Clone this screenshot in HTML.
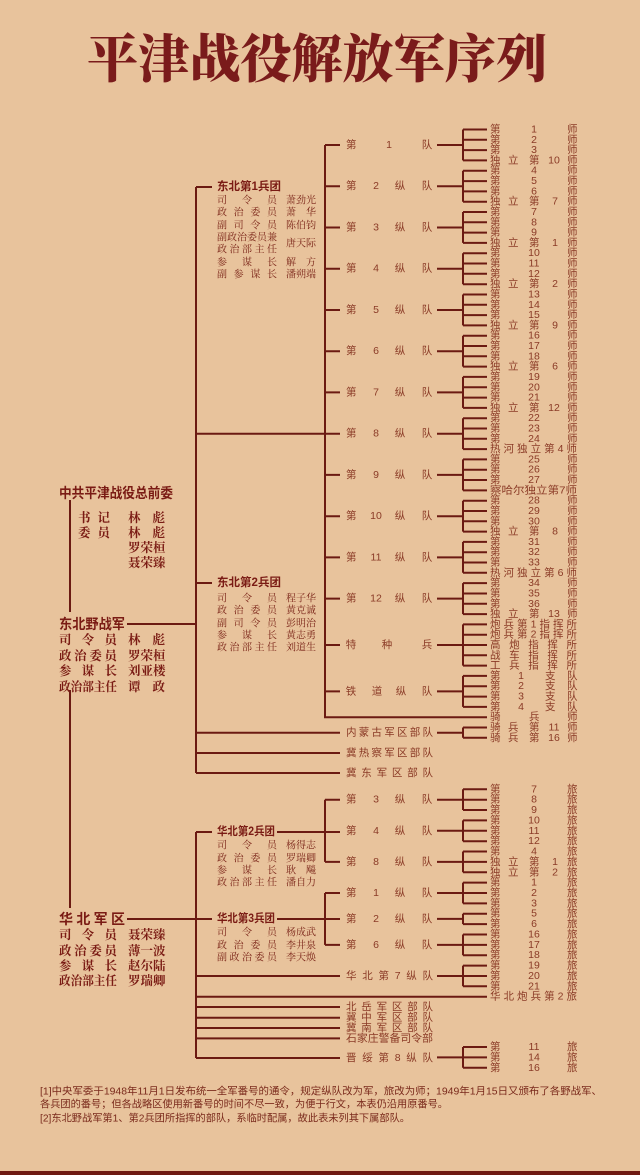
<!DOCTYPE html>
<html><head><meta charset="utf-8"><style>
html,body{margin:0;padding:0;background:#e8c39c;}
svg{display:block}
text{font-family:"Liberation Sans","Noto Sans CJK SC",sans-serif;dominant-baseline:central}
.t{font-family:"Noto Serif CJK SC","Liberation Serif",serif;font-weight:900;fill:#7a1b1b}
.lf{font-size:10.5px;fill:#8a3a26}
.c{text-anchor:middle}
.r{font-size:10px;fill:#7a2418;font-family:"Noto Serif CJK SC","Liberation Serif",serif}
.h{font-size:11.5px;font-weight:bold;fill:#7a1b14}
.b{font-size:14px;font-weight:bold;fill:#7a1b14;font-family:"Noto Sans CJK SC","Liberation Sans",sans-serif}
.m{font-size:12.5px;fill:#7a1b14;font-family:"Noto Serif CJK SC","Liberation Serif",serif;font-weight:bold}
.fn{font-size:10.3px;fill:#7a2a1c}
</style></head><body>
<svg width="640" height="1175" viewBox="0 0 640 1175" xmlns="http://www.w3.org/2000/svg">
<rect width="640" height="1175" fill="#e8c39c"/>
<rect x="0" y="1171" width="640" height="4" fill="#6e1a12"/>
<text class="t" x="87" y="55" font-size="52" textLength="460" lengthAdjust="spacingAndGlyphs">平津战役解放军序列</text>

<g stroke="#6b1a12" stroke-width="2" fill="none">
<path d="M70 500V612M70 690V908M127 624H196M196 187V773M196 187H212M196 583H212M196 433.7H340"/>
<path d="M325 145V717.2H487"/>
<path d="M325 145H340M325 186.2H340M325 227.5H340M325 268.7H340M325 310H340M325 351.2H340M325 392.4H340M325 474.9H340M325 516.2H340M325 557.4H340M325 598.6H340M325 645H340M325 691.4H340"/>
<path d="M196 732.7H340M196 753H340M196 773H340"/>
<path d="M437 145H463M437 186.2H463M437 227.5H463M437 268.7H463M437 310H463M437 351.2H463M437 392.4H463M437 433.7H463M437 474.9H463M437 516.2H463M437 557.4H463M437 598.6H463M437 645H463M437 691.4H463M437 732.7H463"/>
<path d="M463 129.5V160.4M463 170.7V201.7M463 212V242.9M463 253.2V284.2M463 294.5V325.4M463 335.7V366.6M463 376.9V407.9M463 418.2V449.1M463 459.4V490.4M463 500.7V531.6M463 541.9V572.8M463 583.1V614.1M463 624.4V665.6M463 675.9V706.9M463 727.5V737.8"/>
<path d="M463 129.5H487M463 139.8H487M463 150.1H487M463 160.4H487M463 170.7H487M463 181.1H487M463 191.4H487M463 201.7H487M463 212H487M463 222.3H487M463 232.6H487M463 242.9H487M463 253.2H487M463 263.5H487M463 273.8H487M463 284.2H487M463 294.5H487M463 304.8H487M463 315.1H487M463 325.4H487M463 335.7H487M463 346H487M463 356.3H487M463 366.6H487M463 376.9H487M463 387.3H487M463 397.6H487M463 407.9H487M463 418.2H487M463 428.5H487M463 438.8H487M463 449.1H487M463 459.4H487M463 469.7H487M463 480H487M463 490.4H487M463 500.7H487M463 511H487M463 521.3H487M463 531.6H487M463 541.9H487M463 552.2H487M463 562.5H487M463 572.8H487M463 583.1H487M463 593.5H487M463 603.8H487M463 614.1H487M463 624.4H487M463 634.7H487M463 645H487M463 655.3H487M463 665.6H487M463 675.9H487M463 686.2H487M463 696.6H487M463 706.9H487M463 727.5H487M463 737.8H487"/>
<path d="M196 832V1058M127 919H212M196 832H212M277 832H340M277 919H340"/>
<path d="M325 799.7V861.9M325 893V944.9M325 799.7H340M325 861.9H340M325 893H340M325 944.9H340"/>
<path d="M196 976H340M196 996.7H487M196 1007H340M196 1017.7H340M196 1028H340M196 1038.4H340M196 1058H340"/>
<path d="M437 799.7H463M437 830.8H463M437 861.9H463M437 893H463M437 918.9H463M437 944.9H463M437 976H463M437 1057.4H463"/>
<path d="M463 789.3V810M463 820.4V841.2M463 851.5V872.3M463 882.6V903.4M463 913.7V924.1M463 934.5V955.2M463 965.6V986.3M463 1047V1067.8"/>
<path d="M463 789.3H487M463 799.7H487M463 810H487M463 820.4H487M463 830.8H487M463 841.2H487M463 851.5H487M463 861.9H487M463 872.3H487M463 882.6H487M463 893H487M463 903.4H487M463 913.7H487M463 924.1H487M463 934.5H487M463 944.9H487M463 955.2H487M463 965.6H487M463 976H487M463 986.3H487M463 1047H487M463 1057.4H487M463 1067.8H487"/>
</g>

<text class="b" x="59" y="493" textLength="114" lengthAdjust="spacingAndGlyphs">中共平津战役总前委</text>
<text class="m" x="78" y="517" textLength="32" lengthAdjust="spacing">书记</text><text class="m" x="128" y="517" textLength="37" lengthAdjust="spacing">林彪</text>
<text class="m" x="78" y="532" textLength="32" lengthAdjust="spacing">委员</text><text class="m" x="128" y="532" textLength="37" lengthAdjust="spacing">林彪</text>
<text class="m" x="128" y="547">罗荣桓</text>
<text class="m" x="128" y="562">聂荣臻</text>

<text class="b" x="59" y="624" textLength="66" lengthAdjust="spacingAndGlyphs">东北野战军</text>
<text class="m" x="59" y="639" textLength="58" lengthAdjust="spacing">司令员</text><text class="m" x="128" y="639" textLength="37" lengthAdjust="spacing">林彪</text>
<text class="m" x="59" y="655" textLength="58" lengthAdjust="spacing">政治委员</text><text class="m" x="128" y="655">罗荣桓</text>
<text class="m" x="59" y="670" textLength="58" lengthAdjust="spacing">参谋长</text><text class="m" x="128" y="670">刘亚楼</text>
<text class="m" x="59" y="686" textLength="58" lengthAdjust="spacingAndGlyphs">政治部主任</text><text class="m" x="128" y="686" textLength="37" lengthAdjust="spacing">谭政</text>

<text class="b" x="59" y="919" textLength="66" lengthAdjust="spacing">华北军区</text>
<text class="m" x="59" y="934" textLength="58" lengthAdjust="spacing">司令员</text><text class="m" x="128" y="934">聂荣臻</text>
<text class="m" x="59" y="950" textLength="58" lengthAdjust="spacing">政治委员</text><text class="m" x="128" y="950">薄一波</text>
<text class="m" x="59" y="965" textLength="58" lengthAdjust="spacing">参谋长</text><text class="m" x="128" y="965">赵尔陆</text>
<text class="m" x="59" y="980" textLength="58" lengthAdjust="spacingAndGlyphs">政治部主任</text><text class="m" x="128" y="980">罗瑞卿</text>

<text class="h" x="217" y="187" textLength="64" lengthAdjust="spacingAndGlyphs">东北第1兵团</text>
<text class="r" x="217" y="199" textLength="60" lengthAdjust="spacing">司令员</text><text class="r" x="286" y="199">萧劲光</text>
<text class="r" x="217" y="211" textLength="60" lengthAdjust="spacing">政治委员</text><text class="r" x="286" y="211" textLength="30" lengthAdjust="spacing">萧华</text>
<text class="r" x="217" y="224" textLength="60" lengthAdjust="spacing">副司令员</text><text class="r" x="286" y="224">陈伯钧</text>
<text class="r" x="217" y="236" textLength="60" lengthAdjust="spacing">副政治委员兼</text>
<text class="r" x="217" y="248" textLength="60" lengthAdjust="spacing">政治部主任</text><text class="r" x="286" y="242">唐天际</text>
<text class="r" x="217" y="261" textLength="60" lengthAdjust="spacing">参谋长</text><text class="r" x="286" y="261" textLength="30" lengthAdjust="spacing">解方</text>
<text class="r" x="217" y="273" textLength="60" lengthAdjust="spacing">副参谋长</text><text class="r" x="286" y="273">潘朔端</text>

<text class="h" x="217" y="583" textLength="64" lengthAdjust="spacingAndGlyphs">东北第2兵团</text>
<text class="r" x="217" y="597" textLength="60" lengthAdjust="spacing">司令员</text><text class="r" x="286" y="597">程子华</text>
<text class="r" x="217" y="609" textLength="60" lengthAdjust="spacing">政治委员</text><text class="r" x="286" y="609">黄克诚</text>
<text class="r" x="217" y="622" textLength="60" lengthAdjust="spacing">副司令员</text><text class="r" x="286" y="622">彭明治</text>
<text class="r" x="217" y="634" textLength="60" lengthAdjust="spacing">参谋长</text><text class="r" x="286" y="634">黄志勇</text>
<text class="r" x="217" y="646" textLength="60" lengthAdjust="spacing">政治部主任</text><text class="r" x="286" y="646">刘道生</text>

<text class="h" x="217" y="832" textLength="58" lengthAdjust="spacingAndGlyphs">华北第2兵团</text>
<text class="r" x="217" y="844" textLength="60" lengthAdjust="spacing">司令员</text><text class="r" x="286" y="844">杨得志</text>
<text class="r" x="217" y="857" textLength="60" lengthAdjust="spacing">政治委员</text><text class="r" x="286" y="857">罗瑞卿</text>
<text class="r" x="217" y="869" textLength="60" lengthAdjust="spacing">参谋长</text><text class="r" x="286" y="869" textLength="30" lengthAdjust="spacing">耿飚</text>
<text class="r" x="217" y="881" textLength="60" lengthAdjust="spacing">政治部主任</text><text class="r" x="286" y="881">潘自力</text>

<text class="h" x="217" y="919" textLength="58" lengthAdjust="spacingAndGlyphs">华北第3兵团</text>
<text class="r" x="217" y="931" textLength="60" lengthAdjust="spacing">司令员</text><text class="r" x="286" y="931">杨成武</text>
<text class="r" x="217" y="944" textLength="60" lengthAdjust="spacing">政治委员</text><text class="r" x="286" y="944">李井泉</text>
<text class="r" x="217" y="956" textLength="60" lengthAdjust="spacing">副政治委员</text><text class="r" x="286" y="956">李天焕</text>

<g class="lf">
<text x="346" y="145">第</text><text class="c" x="389" y="145">1</text><text class="c" x="427" y="145">队</text>
<text x="346" y="186.2">第</text><text class="c" x="376" y="186.2">2</text><text class="c" x="400" y="186.2">纵</text><text class="c" x="427" y="186.2">队</text>
<text x="346" y="227.5">第</text><text class="c" x="376" y="227.5">3</text><text class="c" x="400" y="227.5">纵</text><text class="c" x="427" y="227.5">队</text>
<text x="346" y="268.7">第</text><text class="c" x="376" y="268.7">4</text><text class="c" x="400" y="268.7">纵</text><text class="c" x="427" y="268.7">队</text>
<text x="346" y="310">第</text><text class="c" x="376" y="310">5</text><text class="c" x="400" y="310">纵</text><text class="c" x="427" y="310">队</text>
<text x="346" y="351.2">第</text><text class="c" x="376" y="351.2">6</text><text class="c" x="400" y="351.2">纵</text><text class="c" x="427" y="351.2">队</text>
<text x="346" y="392.4">第</text><text class="c" x="376" y="392.4">7</text><text class="c" x="400" y="392.4">纵</text><text class="c" x="427" y="392.4">队</text>
<text x="346" y="433.7">第</text><text class="c" x="376" y="433.7">8</text><text class="c" x="400" y="433.7">纵</text><text class="c" x="427" y="433.7">队</text>
<text x="346" y="474.9">第</text><text class="c" x="376" y="474.9">9</text><text class="c" x="400" y="474.9">纵</text><text class="c" x="427" y="474.9">队</text>
<text x="346" y="516.2">第</text><text class="c" x="376" y="516.2">10</text><text class="c" x="400" y="516.2">纵</text><text class="c" x="427" y="516.2">队</text>
<text x="346" y="557.4">第</text><text class="c" x="376" y="557.4">11</text><text class="c" x="400" y="557.4">纵</text><text class="c" x="427" y="557.4">队</text>
<text x="346" y="598.6">第</text><text class="c" x="376" y="598.6">12</text><text class="c" x="400" y="598.6">纵</text><text class="c" x="427" y="598.6">队</text>
<text class="c" x="351" y="645">特</text><text class="c" x="387" y="645">种</text><text class="c" x="427" y="645">兵</text>
<text class="c" x="351" y="691.4">铁</text><text class="c" x="377" y="691.4">道</text><text class="c" x="401" y="691.4">纵</text><text class="c" x="427" y="691.4">队</text>
<text x="346" y="732.7" textLength="87" lengthAdjust="spacing">内蒙古军区部队</text>
<text x="346" y="753" textLength="87" lengthAdjust="spacing">冀热察军区部队</text>
<text x="346" y="773" textLength="87" lengthAdjust="spacing">冀东军区部队</text>
</g>

<g class="lf">
<text x="490" y="129.5">第</text><text class="c" x="534" y="129.5">1</text><text x="567" y="129.5">师</text>
<text x="490" y="139.8">第</text><text class="c" x="534" y="139.8">2</text><text x="567" y="139.8">师</text>
<text x="490" y="150.1">第</text><text class="c" x="534" y="150.1">3</text><text x="567" y="150.1">师</text>
<text x="490" y="160.4">独</text><text x="508" y="160.4">立</text><text x="529" y="160.4">第</text><text class="c" x="554" y="160.4">10</text><text x="567" y="160.4">师</text>
<text x="490" y="170.7">第</text><text class="c" x="534" y="170.7">4</text><text x="567" y="170.7">师</text>
<text x="490" y="181.1">第</text><text class="c" x="534" y="181.1">5</text><text x="567" y="181.1">师</text>
<text x="490" y="191.4">第</text><text class="c" x="534" y="191.4">6</text><text x="567" y="191.4">师</text>
<text x="490" y="201.7">独</text><text x="508" y="201.7">立</text><text x="529" y="201.7">第</text><text class="c" x="555" y="201.7">7</text><text x="567" y="201.7">师</text>
<text x="490" y="212">第</text><text class="c" x="534" y="212">7</text><text x="567" y="212">师</text>
<text x="490" y="222.3">第</text><text class="c" x="534" y="222.3">8</text><text x="567" y="222.3">师</text>
<text x="490" y="232.6">第</text><text class="c" x="534" y="232.6">9</text><text x="567" y="232.6">师</text>
<text x="490" y="242.9">独</text><text x="508" y="242.9">立</text><text x="529" y="242.9">第</text><text class="c" x="555" y="242.9">1</text><text x="567" y="242.9">师</text>
<text x="490" y="253.2">第</text><text class="c" x="534" y="253.2">10</text><text x="567" y="253.2">师</text>
<text x="490" y="263.5">第</text><text class="c" x="534" y="263.5">11</text><text x="567" y="263.5">师</text>
<text x="490" y="273.8">第</text><text class="c" x="534" y="273.8">12</text><text x="567" y="273.8">师</text>
<text x="490" y="284.2">独</text><text x="508" y="284.2">立</text><text x="529" y="284.2">第</text><text class="c" x="555" y="284.2">2</text><text x="567" y="284.2">师</text>
<text x="490" y="294.5">第</text><text class="c" x="534" y="294.5">13</text><text x="567" y="294.5">师</text>
<text x="490" y="304.8">第</text><text class="c" x="534" y="304.8">14</text><text x="567" y="304.8">师</text>
<text x="490" y="315.1">第</text><text class="c" x="534" y="315.1">15</text><text x="567" y="315.1">师</text>
<text x="490" y="325.4">独</text><text x="508" y="325.4">立</text><text x="529" y="325.4">第</text><text class="c" x="555" y="325.4">9</text><text x="567" y="325.4">师</text>
<text x="490" y="335.7">第</text><text class="c" x="534" y="335.7">16</text><text x="567" y="335.7">师</text>
<text x="490" y="346">第</text><text class="c" x="534" y="346">17</text><text x="567" y="346">师</text>
<text x="490" y="356.3">第</text><text class="c" x="534" y="356.3">18</text><text x="567" y="356.3">师</text>
<text x="490" y="366.6">独</text><text x="508" y="366.6">立</text><text x="529" y="366.6">第</text><text class="c" x="555" y="366.6">6</text><text x="567" y="366.6">师</text>
<text x="490" y="376.9">第</text><text class="c" x="534" y="376.9">19</text><text x="567" y="376.9">师</text>
<text x="490" y="387.3">第</text><text class="c" x="534" y="387.3">20</text><text x="567" y="387.3">师</text>
<text x="490" y="397.6">第</text><text class="c" x="534" y="397.6">21</text><text x="567" y="397.6">师</text>
<text x="490" y="407.9">独</text><text x="508" y="407.9">立</text><text x="529" y="407.9">第</text><text class="c" x="554" y="407.9">12</text><text x="567" y="407.9">师</text>
<text x="490" y="418.2">第</text><text class="c" x="534" y="418.2">22</text><text x="567" y="418.2">师</text>
<text x="490" y="428.5">第</text><text class="c" x="534" y="428.5">23</text><text x="567" y="428.5">师</text>
<text x="490" y="438.8">第</text><text class="c" x="534" y="438.8">24</text><text x="567" y="438.8">师</text>
<text x="490" y="449.1" textLength="87" lengthAdjust="spacing">热河独立第4师</text>
<text x="490" y="459.4">第</text><text class="c" x="534" y="459.4">25</text><text x="567" y="459.4">师</text>
<text x="490" y="469.7">第</text><text class="c" x="534" y="469.7">26</text><text x="567" y="469.7">师</text>
<text x="490" y="480">第</text><text class="c" x="534" y="480">27</text><text x="567" y="480">师</text>
<text x="490" y="490.4" textLength="87" lengthAdjust="spacingAndGlyphs">察哈尔独立第7师</text>
<text x="490" y="500.7">第</text><text class="c" x="534" y="500.7">28</text><text x="567" y="500.7">师</text>
<text x="490" y="511">第</text><text class="c" x="534" y="511">29</text><text x="567" y="511">师</text>
<text x="490" y="521.3">第</text><text class="c" x="534" y="521.3">30</text><text x="567" y="521.3">师</text>
<text x="490" y="531.6">独</text><text x="508" y="531.6">立</text><text x="529" y="531.6">第</text><text class="c" x="555" y="531.6">8</text><text x="567" y="531.6">师</text>
<text x="490" y="541.9">第</text><text class="c" x="534" y="541.9">31</text><text x="567" y="541.9">师</text>
<text x="490" y="552.2">第</text><text class="c" x="534" y="552.2">32</text><text x="567" y="552.2">师</text>
<text x="490" y="562.5">第</text><text class="c" x="534" y="562.5">33</text><text x="567" y="562.5">师</text>
<text x="490" y="572.8" textLength="87" lengthAdjust="spacing">热河独立第6师</text>
<text x="490" y="583.1">第</text><text class="c" x="534" y="583.1">34</text><text x="567" y="583.1">师</text>
<text x="490" y="593.5">第</text><text class="c" x="534" y="593.5">35</text><text x="567" y="593.5">师</text>
<text x="490" y="603.8">第</text><text class="c" x="534" y="603.8">36</text><text x="567" y="603.8">师</text>
<text x="490" y="614.1">独</text><text x="508" y="614.1">立</text><text x="529" y="614.1">第</text><text class="c" x="554" y="614.1">13</text><text x="567" y="614.1">师</text>
<text x="490" y="624.4" textLength="87" lengthAdjust="spacing">炮兵第1指挥所</text>
<text x="490" y="634.7" textLength="87" lengthAdjust="spacing">炮兵第2指挥所</text>
<text x="490" y="645" textLength="87" lengthAdjust="spacing">高炮指挥所</text>
<text x="490" y="655.3" textLength="87" lengthAdjust="spacing">战车指挥所</text>
<text x="490" y="665.6" textLength="87" lengthAdjust="spacing">工兵指挥所</text>
<text x="490" y="675.9">第</text><text class="c" x="521" y="675.9">1</text><text x="545" y="675.9">支</text><text x="567" y="675.9">队</text>
<text x="490" y="686.2">第</text><text class="c" x="521" y="686.2">2</text><text x="545" y="686.2">支</text><text x="567" y="686.2">队</text>
<text x="490" y="696.6">第</text><text class="c" x="521" y="696.6">3</text><text x="545" y="696.6">支</text><text x="567" y="696.6">队</text>
<text x="490" y="706.9">第</text><text class="c" x="521" y="706.9">4</text><text x="545" y="706.9">支</text><text x="567" y="706.9">队</text>
<text x="490" y="717.2">骑</text><text x="529" y="717.2">兵</text><text x="567" y="717.2">师</text>
<text x="490" y="727.5">骑</text><text x="508" y="727.5">兵</text><text x="529" y="727.5">第</text><text class="c" x="554" y="727.5">11</text><text x="567" y="727.5">师</text>
<text x="490" y="737.8">骑</text><text x="508" y="737.8">兵</text><text x="529" y="737.8">第</text><text class="c" x="554" y="737.8">16</text><text x="567" y="737.8">师</text>
</g>

<g class="lf">
<text x="346" y="799.7">第</text><text class="c" x="376" y="799.7">3</text><text class="c" x="400" y="799.7">纵</text><text class="c" x="427" y="799.7">队</text>
<text x="346" y="830.8">第</text><text class="c" x="376" y="830.8">4</text><text class="c" x="400" y="830.8">纵</text><text class="c" x="427" y="830.8">队</text>
<text x="346" y="861.9">第</text><text class="c" x="376" y="861.9">8</text><text class="c" x="400" y="861.9">纵</text><text class="c" x="427" y="861.9">队</text>
<text x="346" y="893">第</text><text class="c" x="376" y="893">1</text><text class="c" x="400" y="893">纵</text><text class="c" x="427" y="893">队</text>
<text x="346" y="918.9">第</text><text class="c" x="376" y="918.9">2</text><text class="c" x="400" y="918.9">纵</text><text class="c" x="427" y="918.9">队</text>
<text x="346" y="944.9">第</text><text class="c" x="376" y="944.9">6</text><text class="c" x="400" y="944.9">纵</text><text class="c" x="427" y="944.9">队</text>
<text x="346" y="976" textLength="87" lengthAdjust="spacing">华北第7纵队</text>
<text x="346" y="1007" textLength="87" lengthAdjust="spacing">北岳军区部队</text>
<text x="346" y="1017.7" textLength="87" lengthAdjust="spacing">冀中军区部队</text>
<text x="346" y="1028" textLength="87" lengthAdjust="spacing">冀南军区部队</text>
<text x="346" y="1038.4" textLength="87" lengthAdjust="spacingAndGlyphs">石家庄警备司令部</text>
<text x="346" y="1058" textLength="87" lengthAdjust="spacing">晋绥第8纵队</text>
</g>

<g class="lf">
<text x="490" y="789.3">第</text><text class="c" x="534" y="789.3">7</text><text x="567" y="789.3">旅</text>
<text x="490" y="799.7">第</text><text class="c" x="534" y="799.7">8</text><text x="567" y="799.7">旅</text>
<text x="490" y="810">第</text><text class="c" x="534" y="810">9</text><text x="567" y="810">旅</text>
<text x="490" y="820.4">第</text><text class="c" x="534" y="820.4">10</text><text x="567" y="820.4">旅</text>
<text x="490" y="830.8">第</text><text class="c" x="534" y="830.8">11</text><text x="567" y="830.8">旅</text>
<text x="490" y="841.2">第</text><text class="c" x="534" y="841.2">12</text><text x="567" y="841.2">旅</text>
<text x="490" y="851.5">第</text><text class="c" x="534" y="851.5">4</text><text x="567" y="851.5">旅</text>
<text x="490" y="861.9">独</text><text x="508" y="861.9">立</text><text x="529" y="861.9">第</text><text class="c" x="555" y="861.9">1</text><text x="567" y="861.9">旅</text>
<text x="490" y="872.3">独</text><text x="508" y="872.3">立</text><text x="529" y="872.3">第</text><text class="c" x="555" y="872.3">2</text><text x="567" y="872.3">旅</text>
<text x="490" y="882.6">第</text><text class="c" x="534" y="882.6">1</text><text x="567" y="882.6">旅</text>
<text x="490" y="893">第</text><text class="c" x="534" y="893">2</text><text x="567" y="893">旅</text>
<text x="490" y="903.4">第</text><text class="c" x="534" y="903.4">3</text><text x="567" y="903.4">旅</text>
<text x="490" y="913.7">第</text><text class="c" x="534" y="913.7">5</text><text x="567" y="913.7">旅</text>
<text x="490" y="924.1">第</text><text class="c" x="534" y="924.1">6</text><text x="567" y="924.1">旅</text>
<text x="490" y="934.5">第</text><text class="c" x="534" y="934.5">16</text><text x="567" y="934.5">旅</text>
<text x="490" y="944.9">第</text><text class="c" x="534" y="944.9">17</text><text x="567" y="944.9">旅</text>
<text x="490" y="955.2">第</text><text class="c" x="534" y="955.2">18</text><text x="567" y="955.2">旅</text>
<text x="490" y="965.6">第</text><text class="c" x="534" y="965.6">19</text><text x="567" y="965.6">旅</text>
<text x="490" y="976">第</text><text class="c" x="534" y="976">20</text><text x="567" y="976">旅</text>
<text x="490" y="986.3">第</text><text class="c" x="534" y="986.3">21</text><text x="567" y="986.3">旅</text>
<text x="490" y="996.7" textLength="87" lengthAdjust="spacing">华北炮兵第2旅</text>
<text x="490" y="1047">第</text><text class="c" x="534" y="1047">11</text><text x="567" y="1047">旅</text>
<text x="490" y="1057.4">第</text><text class="c" x="534" y="1057.4">14</text><text x="567" y="1057.4">旅</text>
<text x="490" y="1067.8">第</text><text class="c" x="534" y="1067.8">16</text><text x="567" y="1067.8">旅</text>
</g>

<text class="fn" x="40" y="1092" textLength="562" lengthAdjust="spacingAndGlyphs">[1]中央军委于1948年11月1日发布统一全军番号的通令，规定纵队改为军，旅改为师；1949年1月15日又颁布了各野战军、</text>
<text class="fn" x="40" y="1105" textLength="408" lengthAdjust="spacingAndGlyphs">各兵团的番号；但各战略区使用新番号的时间不尽一致，为便于行文，本表仍沿用原番号。</text>
<text class="fn" x="40" y="1119" textLength="370" lengthAdjust="spacingAndGlyphs">[2]东北野战军第1、第2兵团所指挥的部队，系临时配属，故此表未列其下属部队。</text>
</svg>
</body></html>
